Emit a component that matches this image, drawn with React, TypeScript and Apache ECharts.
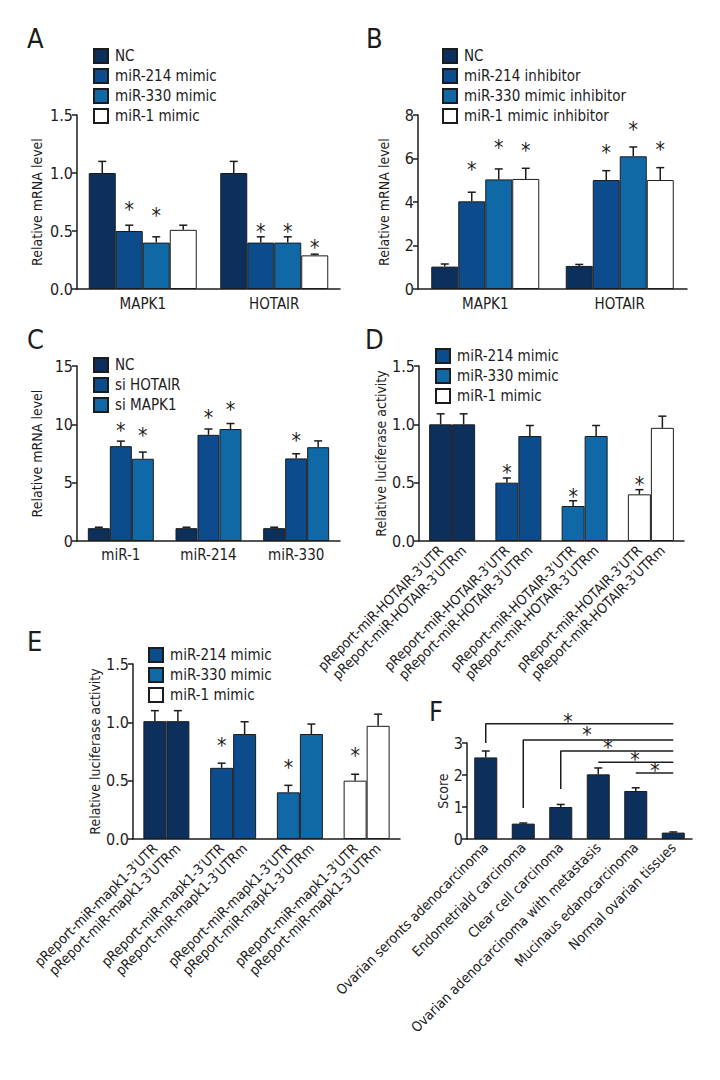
import React, { useEffect, useRef } from 'react';
import * as echarts from 'echarts';

const FONT = "'Liberation Sans Narrow', 'DejaVu Sans Condensed', 'Roboto Condensed', 'Noto Sans', sans-serif";
const INK = '#1c1c1c';
const C_NC = '#0c2f5c';
const C_214 = '#0d4c8c';
const C_330 = '#1069a6';
const C_WHITE = '#ffffff';

// ---------- Panel A ----------
const A_CATEGORIES = ['MAPK1', 'HOTAIR'];
const A_NAMES = ['NC', 'miR-214 mimic', 'miR-330 mimic', 'miR-1 mimic'];
const A_NC = [1.0, 1.0];
const A_MIR214 = [0.5, 0.4];
const A_MIR330 = [0.4, 0.4];
const A_MIR1 = [0.51, 0.29];
const A_NC_ERR = [1.1, 1.1];
const A_MIR214_ERR = [0.55, 0.45];
const A_MIR330_ERR = [0.45, 0.45];
const A_MIR1_ERR = [0.55, 0.3];
// level (in axis units) of the significance asterisk, null = none
const A_NC_STAR = [null, null];
const A_MIR214_STAR = [0.71, 0.52];
const A_MIR330_STAR = [0.655, 0.52];
const A_MIR1_STAR = [null, 0.38];

// ---------- Panel B ----------
const B_CATEGORIES = ['MAPK1', 'HOTAIR'];
const B_NAMES = ['NC', 'miR-214 inhibitor', 'miR-330 mimic inhibitor', 'miR-1 mimic inhibitor'];
const B_NC = [1.03, 1.06];
const B_MIR214 = [4.03, 5.01];
const B_MIR330 = [5.04, 6.1];
const B_MIR1 = [5.06, 5.01];
const B_NC_ERR = [1.15, 1.13];
const B_MIR214_ERR = [4.45, 5.44];
const B_MIR330_ERR = [5.52, 6.53];
const B_MIR1_ERR = [5.55, 5.58];
const B_NC_STAR = [null, null];
const B_MIR214_STAR = [5.62, 6.39];
const B_MIR330_STAR = [6.62, 7.46];
const B_MIR1_STAR = [6.47, 6.54];

// ---------- Panel C ----------
const C_CATEGORIES = ['miR-1', 'miR-214', 'miR-330'];
const C_NAMES = ['NC', 'si HOTAIR', 'si MAPK1'];
const C_NCV = [1.1, 1.1, 1.1];
const C_SIHOTAIR = [8.13, 9.1, 7.08];
const C_SIMAPK1 = [7.05, 9.6, 8.04];
const C_NC_ERR = [1.18, 1.18, 1.18];
const C_SIHOTAIR_ERR = [8.56, 9.6, 7.48];
const C_SIMAPK1_ERR = [7.62, 10.07, 8.58];
const C_NC_STAR = [null, null, null];
const C_SIHOTAIR_STAR = [9.67, 10.8, 8.86];
const C_SIMAPK1_STAR = [9.29, 11.51, null];

// ---------- Panel D ----------
const D_GROUPS = ['NC', 'miR-214 mimic', 'miR-330 mimic', 'miR-1 mimic'];
const D_LEGEND = ['miR-214 mimic', 'miR-330 mimic', 'miR-1 mimic'];
const D_UTR_LABEL = 'pReport-miR-HOTAIR-3\u2032UTR';
const D_UTRM_LABEL = 'pReport-miR-HOTAIR-3\u2032UTRm';
const D_UTR = [1.0, 0.5, 0.3, 0.4];
const D_UTRM = [1.0, 0.9, 0.9, 0.97];
const D_UTR_ERR = [1.09, 0.54, 0.345, 0.44];
const D_UTRM_ERR = [1.09, 0.99, 0.99, 1.07];
const D_UTR_STAR = [null, 0.606, 0.4, 0.506];
const D_UTRM_STAR = [null, null, null, null];

// ---------- Panel E ----------
const E_GROUPS = ['NC', 'miR-214 mimic', 'miR-330 mimic', 'miR-1 mimic'];
const E_LEGEND = ['miR-214 mimic', 'miR-330 mimic', 'miR-1 mimic'];
const E_UTR_LABEL = 'pReport-miR-mapk1-3\u2032UTR';
const E_UTRM_LABEL = 'pReport-miR-mapk1-3\u2032UTRm';
const E_UTR = [1.01, 0.61, 0.4, 0.5];
const E_UTRM = [1.01, 0.9, 0.9, 0.97];
const E_UTR_ERR = [1.1, 0.65, 0.46, 0.555];
const E_UTRM_ERR = [1.1, 1.005, 0.985, 1.07];
const E_UTR_STAR = [null, 0.82, 0.634, 0.74];
const E_UTRM_STAR = [null, null, null, null];

// ---------- Panel F ----------
const F_CATEGORIES = [
  'Ovarian seronts adenocarcinoma',
  'Endometriald carcinoma',
  'Clear cell carcinoma',
  'Ovarian adenocarcinoma with metastasis',
  'Mucinaus edanocarcinoma',
  'Normal ovarian tissues',
];
const F_SCORE = [2.55, 0.48, 1.0, 2.02, 1.5, 0.2];
const F_SCORE_ERR = [2.75, 0.5, 1.08, 2.22, 1.6, 0.22];
const F_STAR = [null, null, null, null, null, null];
const F_BRACKET_FROM = [0, 1, 2, 3, 4];
const F_BRACKET_TO = [5, 5, 5, 5, 5];
const F_BRACKET_LEVEL = [3.6, 3.09, 2.75, 2.4, 2.06];
const F_BRACKET_LEG = [3.0, 0.97, 1.56, null, null];
const F_STAR_X = [2.19, 2.7, 3.26, 3.98, 4.51];
const F_STAR_LEVEL = [3.75, 3.34, 2.94, 2.56, 2.22];

type S = { name: string; color: string; values: number[]; errs: number[]; stars: (number | null)[]; itemColors?: string[]; label?: string };
type P = {
  letter: string; lx: number; ly: number;
  grid: [number, number, number, number];
  categories: string[]; catLabels: boolean; catRotate: number; catFont: number; catMargin: number;
  yMax: number; yInterval: number; yDec: number; yName: string; yNameGap: number;
  barWidth: number; series: S[];
  legend?: { names: string[]; left: number; top: number };
};

const starText = (x: number, y: number) => ({
  type: 'text', x, y,
  style: { text: '*', fontSize: 21, fontFamily: FONT, fill: INK, stroke: 'none', lineWidth: 0, align: 'center', verticalAlign: 'middle' },
});

function buildOption(panels: P[], extra: (ctx: any) => void) {
  const grid: any[] = [], xAxis: any[] = [], yAxis: any[] = [], series: any[] = [], legend: any[] = [], title: any[] = [];
  panels.forEach((p, i) => {
    title.push({ text: p.letter, left: p.lx, top: p.ly, padding: 0, textStyle: { fontFamily: FONT, fontSize: 27, fontWeight: 'normal', color: INK } });
    grid.push({ left: p.grid[0], top: p.grid[1], width: p.grid[2], height: p.grid[3] });
    xAxis.push({
      type: 'category', gridIndex: i, data: p.categories,
      axisLine: { lineStyle: { color: INK, width: 1.5 } },
      axisTick: { show: false },
      axisLabel: { show: p.catLabels, interval: 0, rotate: p.catRotate, color: INK, fontFamily: FONT, fontSize: p.catFont, margin: p.catMargin },
    });
    yAxis.push({
      type: 'value', gridIndex: i, min: 0, max: p.yMax, interval: p.yInterval,
      name: p.yName, nameLocation: 'middle', nameGap: p.yNameGap,
      nameTextStyle: { fontFamily: FONT, fontSize: 14, color: INK },
      axisLine: { show: true, lineStyle: { color: INK, width: 1.5 } },
      axisTick: { show: true, length: 5, lineStyle: { color: INK, width: 1.5 } },
      splitLine: { show: false },
      axisLabel: { color: INK, fontFamily: FONT, fontSize: 16, margin: 4, formatter: (v: number) => v.toFixed(p.yDec) },
    });
    const n = p.series.length;
    const bw = p.barWidth;
    p.series.forEach((s) => {
      series.push({
        type: 'bar', name: s.name, xAxisIndex: i, yAxisIndex: i, barWidth: bw, barGap: '0%',
        itemStyle: { color: s.color, borderColor: INK, borderWidth: 1 },
        data: s.values.map((v, j) => ({ value: v, itemStyle: { color: s.itemColors ? s.itemColors[j] : s.color } })),
        label: s.label
          ? { show: true, position: 'bottom', distance: 7, rotate: 45, align: 'right', verticalAlign: 'middle', formatter: () => s.label, fontFamily: FONT, fontSize: 14, color: INK }
          : { show: false },
      });
    });
    const errData: number[][] = [];
    p.series.forEach((s, k) =>
      s.values.forEach((v, j) => errData.push([j, v, k, s.errs[j], s.stars[j] === null ? -1 : (s.stars[j] as number)]))
    );
    series.push({
      type: 'custom', xAxisIndex: i, yAxisIndex: i, data: errData, z: 5, silent: true, clip: false,
      encode: { x: 0, y: 1 },
      renderItem: (_params: any, api: any) => {
        const cat = api.value(0), v = api.value(1), k = api.value(2), e = api.value(3), star = api.value(4);
        const off = (k - (n - 1) / 2) * bw;
        const top = api.coord([cat, v]);
        const cap = api.coord([cat, e]);
        const x = top[0] + off;
        const children: any[] = [
          { type: 'line', shape: { x1: x, y1: top[1], x2: x, y2: cap[1] }, style: { stroke: INK, lineWidth: 1.5 } },
          { type: 'line', shape: { x1: x - 4, y1: cap[1], x2: x + 4, y2: cap[1] }, style: { stroke: INK, lineWidth: 1.5 } },
        ];
        if (star >= 0) {
          const sp = api.coord([cat, star]);
          children.push(starText(x, sp[1] + 3));
        }
        return { type: 'group', children };
      },
    });
    if (p.legend) {
      legend.push({
        orient: 'vertical', left: p.legend.left, top: p.legend.top, padding: 0,
        itemWidth: 14, itemHeight: 14, itemGap: 4, icon: 'rect', selectedMode: false,
        data: p.legend.names,
        textStyle: { fontFamily: FONT, fontSize: 15, color: INK, padding: [0, 0, 0, 2] },
      });
    }
  });
  extra({ series });
  return { animation: false, backgroundColor: '#ffffff', title, grid, xAxis, yAxis, series, legend };
}

export default function App() {
  const ref = useRef<HTMLDivElement>(null);
  useEffect(() => {
    document.body.style.margin = '0';
    if (!ref.current) return;
    const chart = echarts.init(ref.current, undefined, { renderer: 'svg' });
    const panels: P[] = [
      {
        letter: 'A', lx: 27, ly: 25, grid: [77, 115, 263, 174],
        categories: A_CATEGORIES, catLabels: true, catRotate: 0, catFont: 15, catMargin: 7,
        yMax: 1.5, yInterval: 0.5, yDec: 1, yName: 'Relative mRNA level', yNameGap: 33, barWidth: 27,
        series: [
          { name: A_NAMES[0], color: C_NC, values: A_NC, errs: A_NC_ERR, stars: A_NC_STAR },
          { name: A_NAMES[1], color: C_214, values: A_MIR214, errs: A_MIR214_ERR, stars: A_MIR214_STAR },
          { name: A_NAMES[2], color: C_330, values: A_MIR330, errs: A_MIR330_ERR, stars: A_MIR330_STAR },
          { name: A_NAMES[3], color: C_WHITE, values: A_MIR1, errs: A_MIR1_ERR, stars: A_MIR1_STAR },
        ],
        legend: { names: A_NAMES, left: 93, top: 48 },
      },
      {
        letter: 'B', lx: 366, ly: 25, grid: [418, 115, 269, 174],
        categories: B_CATEGORIES, catLabels: true, catRotate: 0, catFont: 15, catMargin: 7,
        yMax: 8, yInterval: 2, yDec: 0, yName: 'Relative mRNA level', yNameGap: 27, barWidth: 27,
        series: [
          { name: B_NAMES[0], color: C_NC, values: B_NC, errs: B_NC_ERR, stars: B_NC_STAR },
          { name: B_NAMES[1], color: C_214, values: B_MIR214, errs: B_MIR214_ERR, stars: B_MIR214_STAR },
          { name: B_NAMES[2], color: C_330, values: B_MIR330, errs: B_MIR330_ERR, stars: B_MIR330_STAR },
          { name: B_NAMES[3], color: C_WHITE, values: B_MIR1, errs: B_MIR1_ERR, stars: B_MIR1_STAR },
        ],
        legend: { names: B_NAMES, left: 442, top: 48 },
      },
      {
        letter: 'C', lx: 27, ly: 326, grid: [77, 366, 263, 175],
        categories: C_CATEGORIES, catLabels: true, catRotate: 0, catFont: 15, catMargin: 6,
        yMax: 15, yInterval: 5, yDec: 0, yName: 'Relative mRNA level', yNameGap: 33, barWidth: 22,
        series: [
          { name: C_NAMES[0], color: C_NC, values: C_NCV, errs: C_NC_ERR, stars: C_NC_STAR },
          { name: C_NAMES[1], color: C_214, values: C_SIHOTAIR, errs: C_SIHOTAIR_ERR, stars: C_SIHOTAIR_STAR },
          { name: C_NAMES[2], color: C_330, values: C_SIMAPK1, errs: C_SIMAPK1_ERR, stars: C_SIMAPK1_STAR },
        ],
        legend: { names: C_NAMES, left: 93, top: 357 },
      },
      {
        letter: 'D', lx: 365, ly: 326, grid: [419, 366, 265, 175],
        categories: D_GROUPS, catLabels: false, catRotate: 0, catFont: 14, catMargin: 6,
        yMax: 1.5, yInterval: 0.5, yDec: 1, yName: 'Relative luciferase activity', yNameGap: 29, barWidth: 23,
        series: [
          { name: 'D 3\u2032UTR', color: C_NC, itemColors: [C_NC, C_214, C_330, C_WHITE], values: D_UTR, errs: D_UTR_ERR, stars: D_UTR_STAR, label: D_UTR_LABEL },
          { name: 'D 3\u2032UTRm', color: C_NC, itemColors: [C_NC, C_214, C_330, C_WHITE], values: D_UTRM, errs: D_UTRM_ERR, stars: D_UTRM_STAR, label: D_UTRM_LABEL },
        ],
        legend: { names: D_LEGEND, left: 435, top: 348 },
      },
      {
        letter: 'E', lx: 27, ly: 628, grid: [133, 664, 267, 175],
        categories: E_GROUPS, catLabels: false, catRotate: 0, catFont: 14, catMargin: 6,
        yMax: 1.5, yInterval: 0.5, yDec: 1, yName: 'Relative luciferase activity', yNameGap: 30, barWidth: 23,
        series: [
          { name: 'E 3\u2032UTR', color: C_NC, itemColors: [C_NC, C_214, C_330, C_WHITE], values: E_UTR, errs: E_UTR_ERR, stars: E_UTR_STAR, label: E_UTR_LABEL },
          { name: 'E 3\u2032UTRm', color: C_NC, itemColors: [C_NC, C_214, C_330, C_WHITE], values: E_UTRM, errs: E_UTRM_ERR, stars: E_UTRM_STAR, label: E_UTRM_LABEL },
        ],
        legend: { names: E_LEGEND, left: 148, top: 647 },
      },
      {
        letter: 'F', lx: 429, ly: 698, grid: [467, 743, 225, 96],
        categories: F_CATEGORIES, catLabels: true, catRotate: 45, catFont: 14, catMargin: 6,
        yMax: 3, yInterval: 1, yDec: 0, yName: 'Score', yNameGap: 17, barWidth: 23,
        series: [
          { name: 'Score', color: C_NC, values: F_SCORE, errs: F_SCORE_ERR, stars: F_STAR },
        ],
      },
    ];
    const option = buildOption(panels, ({ series }) => {
      F_BRACKET_FROM.forEach((from, b) => {
        const pts: any[] = [];
        const leg = F_BRACKET_LEG[b];
        if (leg !== null) pts.push([from, leg]);
        pts.push([from, F_BRACKET_LEVEL[b]]);
        pts.push([F_BRACKET_TO[b], F_BRACKET_LEVEL[b]]);
        series.push({
          type: 'line', xAxisIndex: 5, yAxisIndex: 5, data: pts, symbol: 'none', clip: false, silent: true,
          lineStyle: { color: INK, width: 1.5 },
        });
      });
      series.push({
        type: 'custom', xAxisIndex: 5, yAxisIndex: 5, clip: false, silent: true, z: 5,
        itemStyle: { color: INK },
        data: F_STAR_X.map((x, b) => [Math.floor(x), F_STAR_LEVEL[b], x - Math.floor(x)]),
        encode: { x: 0, y: 1 },
        renderItem: (_p: any, api: any) => {
          const i0 = api.value(0), lvl = api.value(1), f = api.value(2);
          const a = api.coord([i0, lvl]);
          const b = api.coord([i0 + 1, lvl]);
          return { type: 'group', children: [starText(a[0] + (b[0] - a[0]) * f, a[1] + 3)] };
        },
      });
    });
    chart.setOption(option as any);
    return () => chart.dispose();
  }, []);
  return <div ref={ref} style={{ width: 720, height: 1080 }} />;
}
